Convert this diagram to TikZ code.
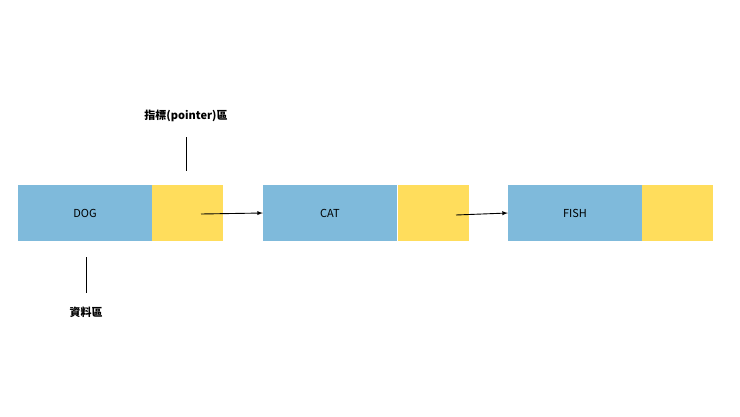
\documentclass[tikz,border=0pt]{standalone}
\usepackage{fontspec}
\setmainfont{Noto Sans CJK TC}
\begin{document}
\begin{tikzpicture}[x=1pt,y=-1pt,
  dat/.style={fill={rgb,255:red,127;green,186;blue,219},draw=none,minimum width=134pt,minimum height=56pt,inner sep=0pt,font=\fontsize{11}{13}\selectfont},
  ptr/.style={fill={rgb,255:red,255;green,221;blue,92},draw=none,minimum width=71pt,minimum height=56pt,inner sep=0pt},
  lbl/.style={font=\bfseries\fontsize{11}{13}\selectfont},
  arr/.style={-latex,line width=0.9pt},
  tick/.style={line width=1pt}]
\useasboundingbox (0,0) rectangle (740,416);
\node[dat] (d1) at (85,213) {DOG};
\node[ptr] (p1) at (187.5,213) {};
\node[dat] (d2) at (330,213) {CAT};
\node[ptr] (p2) at (433,213) {};
\node[dat] (d3) at (575,213) {FISH};
\node[ptr] (p3) at (677.5,213) {};
\coordinate (a1) at (201,214);
\coordinate (a2) at (456,215);
\draw[arr] (a1) -- (d2.west);
\draw[arr] (a2) -- (d3.west);
\node[lbl] (lp) at (186,116) {指標(pointer)區};
\coordinate (t1a) at (186,137); \coordinate (t1b) at (186,171);
\draw[tick] (t1a) -- (t1b);
\node[lbl] (ld) at (86,312) {資料區};
\coordinate (t2a) at (86,257); \coordinate (t2b) at (86,293);
\draw[tick] (t2a) -- (t2b);
\end{tikzpicture}
\end{document}
